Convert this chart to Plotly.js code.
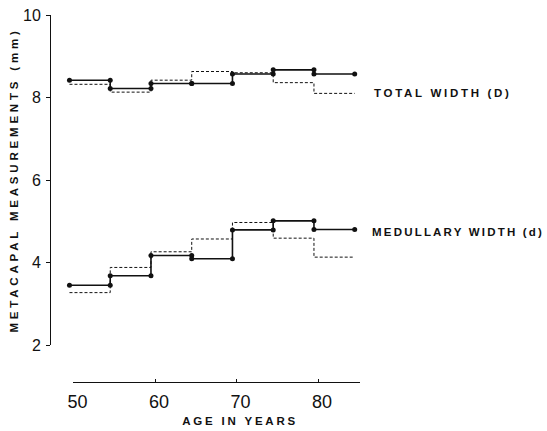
<!DOCTYPE html>
<html>
<head>
<meta charset="utf-8">
<script src="https://cdn.plot.ly/plotly-3.0.1.min.js"></script>
<style>
  html, body { margin: 0; padding: 0; background: #fff; }
  #chart { width: 547px; height: 431px; }
  g.annotation[data-index="0"] text { letter-spacing: 2.7px; }
  g.annotation[data-index="1"] text { letter-spacing: 2.2px; }
  g.annotation[data-index="2"] text { letter-spacing: 2.8px; }
  .ytitle { letter-spacing: 3.8px; }
</style>
</head>
<body>
<div id="chart"></div>
<script>
// Age-group boundaries (years)
const ageBounds = [49.5, 54.5, 59.5, 64.5, 69.5, 74.5, 79.5, 84.5];
// Total width (D), mm per age group
const totalSolid  = [8.42, 8.22, 8.34, 8.34, 8.57, 8.67, 8.57];
const totalDashed = [8.32, 8.13, 8.42, 8.63, 8.60, 8.36, 8.10];
// Medullary width (d), mm per age group
const medSolid  = [3.45, 3.68, 4.17, 4.09, 4.79, 5.01, 4.80];
const medDashed = [3.27, 3.88, 4.26, 4.57, 4.97, 4.59, 4.13];
// Axis ticks
const xTicks = [50, 60, 70, 80];
const yTicks = [2, 4, 6, 8, 10];
const labelTotal = 'TOTAL WIDTH (D)';
const labelMed = 'MEDULLARY WIDTH (d)';
const xTitle = 'AGE IN YEARS';
const yTitle = 'METACAPAL MEASUREMENTS (mm)';

function steps(bounds, vals) {
  const x = [], y = [];
  for (let i = 0; i < vals.length; i++) {
    x.push(bounds[i], bounds[i + 1]);
    y.push(vals[i], vals[i]);
  }
  return {x, y};
}

function solidTrace(vals) {
  const s = steps(ageBounds, vals);
  return {x: s.x, y: s.y, type: 'scatter', mode: 'lines+markers',
    line: {color: '#111', width: 1.6},
    marker: {color: '#111', size: 5},
    cliponaxis: false, hoverinfo: 'skip', showlegend: false};
}
function dashedTrace(vals) {
  const s = steps(ageBounds, vals);
  return {x: s.x, y: s.y, type: 'scatter', mode: 'lines',
    line: {color: '#111', width: 1, dash: '3px,2px'},
    cliponaxis: false, hoverinfo: 'skip', showlegend: false};
}

const data = [
  dashedTrace(totalDashed), solidTrace(totalSolid),
  dashedTrace(medDashed), solidTrace(medSolid),
  {x: [], y: [], xaxis: 'x2', yaxis: 'y', type: 'scatter', mode: 'markers', showlegend: false, hoverinfo: 'skip'}
];

const font = {family: '"Liberation Sans", Arial, Helvetica, sans-serif', color: '#111'};
const boldFont = Object.assign({}, font, {size: 11.5, weight: 700});

const layout = {
  width: 547, height: 431,
  margin: {l: 50, r: 187, t: 15, b: 49},
  paper_bgcolor: '#fff', plot_bgcolor: 'rgba(0,0,0,0)',
  font: font,
  showlegend: false,
  xaxis: {domain: [0, 1], range: [47.11, 85.15], visible: false, showgrid: false, fixedrange: true},
  xaxis2: {domain: [0.0758, 1], range: [50, 85.15], anchor: 'free', position: 0,
    showline: true, linecolor: '#111', linewidth: 1.3, showgrid: false, zeroline: false,
    ticks: 'inside', ticklen: 3, tickwidth: 1, tickcolor: '#111',
    tickvals: xTicks, ticktext: xTicks.map(String), ticklabelstandoff: 3, ticklabelshift: 4,
    tickfont: Object.assign({}, font, {size: 18})},
  yaxis: {domain: [0.1008, 1], range: [2, 10], anchor: 'free', position: 0,
    showline: true, linecolor: '#111', linewidth: 1.3, showgrid: false, zeroline: false,
    ticks: 'outside', ticklen: 4, tickwidth: 1, tickcolor: '#111',
    tickvals: yTicks, ticktext: yTicks.map(String), ticklabelstandoff: 2,
    tickfont: Object.assign({}, font, {size: 16}),
    title: {text: yTitle, font: boldFont, standoff: 0}},
  annotations: [
    {text: labelTotal, xref: 'paper', yref: 'y', x: 1.039, y: 8.11, xanchor: 'left', yanchor: 'middle', align: 'left', showarrow: false, font: boldFont},
    {text: labelMed, xref: 'paper', yref: 'y', x: 1.032, y: 4.74, xanchor: 'left', yanchor: 'middle', align: 'left', showarrow: false, font: boldFont},
    {text: xTitle, xref: 'paper', yref: 'paper', x: 0.613, y: -0.106, xanchor: 'center', yanchor: 'middle', align: 'center', showarrow: false, font: boldFont}
  ]
};

Plotly.newPlot('chart', data, layout, {staticPlot: true, displayModeBar: false});
</script>
</body>
</html>
